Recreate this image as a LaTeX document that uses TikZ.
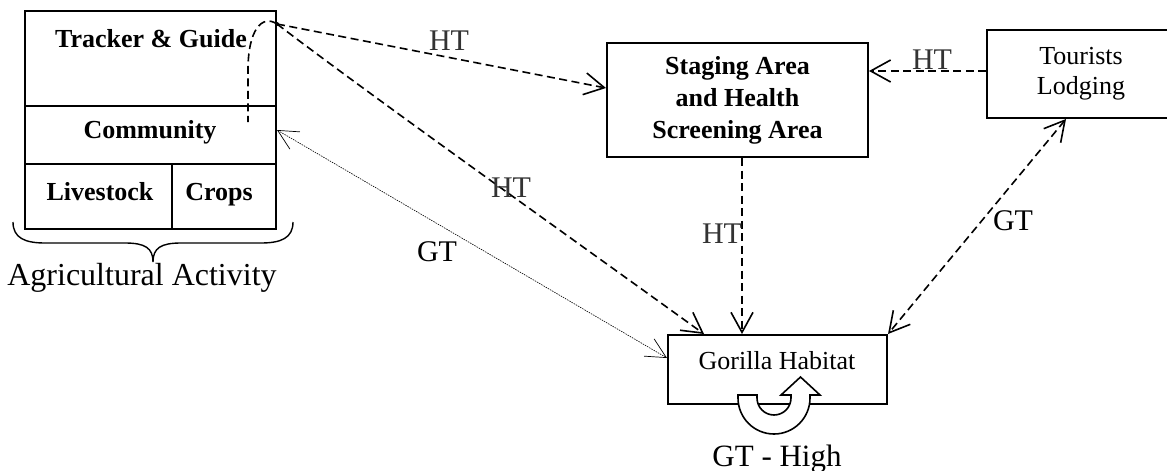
\documentclass[tikz,border=0pt]{standalone}
\usepackage{fontspec}
\setmainfont{Liberation Serif}
\usetikzlibrary{arrows.meta,calc}
\begin{document}
\begin{tikzpicture}[x=1pt,y=-1pt,
  box/.style={draw, line width=2pt, rectangle, inner sep=0pt},
  bt/.style={font=\bfseries\fontsize{26}{32}\selectfont, inner sep=0pt},
  rt/.style={font=\fontsize{26}{30}\selectfont, inner sep=0pt},
  htl/.style={font=\fontsize{30}{30}\selectfont, text=black!80, inner sep=0pt},
  gtl/.style={font=\fontsize{30}{30}\selectfont, inner sep=0pt},
  conn/.style={line width=1.6pt, dash pattern=on 8pt off 4.5pt},
  thinconn/.style={line width=0.6pt, dash pattern=on 1.5pt off 1pt},
  >={Straight Barb[length=20pt,width=22pt]}]
\clip (0,0) rectangle (1167,471);
\fill[white] (0,0) rectangle (1167,471);

% left block
\node[box, minimum width=251pt, minimum height=95pt] (tracker) at (150.5,58.5) {};
\node[box, minimum width=251pt, minimum height=58pt] (community) at (150.5,135) {};
\node[box, minimum width=147pt, minimum height=65pt] (livestock) at (98.5,196.5) {};
\node[box, minimum width=104pt, minimum height=65pt] (crops) at (224,196.5) {};
\node[bt, anchor=base] (trackert) at (151,47) {Tracker \& Guide};
\node[bt, anchor=base] (communityt) at (150,138) {Community};
\node[bt, anchor=base] (livestockt) at (100,200) {Livestock};
\node[bt, anchor=base] (cropst) at (219,200) {Crops};

% brace
\draw[line width=1.4pt] (13,222) .. controls (13,238) and (25,243) .. (45,243) -- (125,243)
  .. controls (145,243) and (153,248) .. (153,262)
  .. controls (153,248) and (161,243) .. (181,243) -- (261,243)
  .. controls (281,243) and (293,238) .. (293,222);
\node[font=\fontsize{32}{32}\selectfont, anchor=base, inner sep=0pt] (agri) at (142,285) {Agricultural Activity};

% other boxes
\node[box, bt, align=center, minimum width=261pt, minimum height=114pt] (stage) at (737.5,100)
  {Staging Area\\and Health\\Screening Area};
\node[box, rt, align=center, minimum width=188pt, minimum height=88pt] (tour) at (1081,74)
  {Tourists\\Lodging};
\node[box, minimum width=219pt, minimum height=69pt] (gor) at (777.5,369.5) {};
\node[rt, anchor=base] (gort) at (777,369) {Gorilla Habitat};

% U-turn arrow
\draw[line width=1.6pt, fill=white, line join=miter]
  (738,395) -- (757,395) -- (757,398) arc (180:0:17) -- (791,395) -- (781,395)
  -- (800.5,377) -- (820,395) -- (810,395) -- (810,398) arc (0:180:36) -- cycle;
\node[font=\fontsize{31}{31}\selectfont, anchor=base, inner sep=0pt] (gthigh) at (777,466) {GT - High};

% connectors
\coordinate (tg) at (277,24);
\coordinate (ce) at (248,122);
\fill (tg) circle (2pt);
\draw[conn] (tg) .. controls (262,14) and (248,30) .. (248,70) -- (ce);
\draw[conn,->] (tg) -- ([yshift=12pt]stage.west);
\draw[conn,->] (tg) .. controls (370,95) and (560,230) .. ([xshift=37pt]gor.north west);
\draw[conn,->] ([xshift=4.5pt]stage.south) -- ([xshift=-35.5pt]gor.north);
\draw[conn,->] ([yshift=3pt]tour.west) -- ([yshift=29pt]stage.east);
\draw[conn,<->] ([xshift=-15pt]tour.south) -- (gor.north east);
\draw[thinconn,{Straight Barb[length=20pt,width=20pt,line width=0.7pt]}-{Straight Barb[length=20pt,width=20pt,line width=0.7pt]}]
  ([yshift=5pt]community.east) -- ([yshift=11.5pt]gor.west);

% labels
\node[htl] (ht1) at (449,41) {HT};
\node[htl] (ht2) at (932,60) {HT};
\node[htl] (ht3) at (511,188) {HT};
\node[htl] (ht4) at (722,234) {HT};
\node[gtl] (gt1) at (437,252) {GT};
\node[gtl] (gt2) at (1013,221) {GT};
\end{tikzpicture}
\end{document}
